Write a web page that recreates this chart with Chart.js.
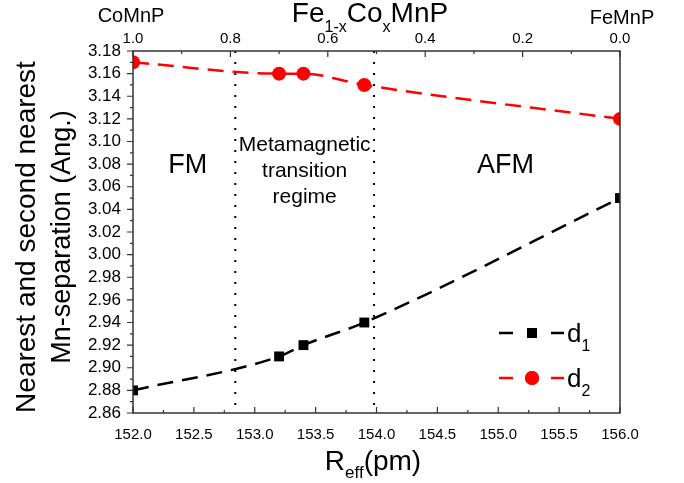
<!DOCTYPE html>
<html>
<head>
<meta charset="utf-8">
<script src="https://cdn.jsdelivr.net/npm/chart.js@4.4.1/dist/chart.umd.min.js"></script>
<style>
  html, body { margin: 0; padding: 0; background: #fff; }
  #wrap { width: 684px; height: 483px; position: relative; }
</style>
</head>
<body>
<div id="wrap"><canvas id="chart"></canvas></div>
<script>
// values
const rEff = [152.0, 153.2, 153.4, 153.9, 156.0];
const d1 = [2.88, 2.91, 2.92, 2.94, 3.05];
const d2 = [3.17, 3.16, 3.16, 3.15, 3.12];
const phaseBounds = [152.84, 153.98];
const xRange = [152, 156];
const yRange = [2.86, 3.18];
const topRange = [0, 1];

const FONT = 'Arial, "Liberation Sans", sans-serif';
const font = (size) => `${size}px ${FONT}`;

// draw a run of text pieces (with subscripts); returns total width
function richText(ctx, parts, x, y, align = 'left') {
  let total = 0;
  for (const p of parts) { ctx.font = font(p.size); total += ctx.measureText(p.t).width; }
  let cx = align === 'center' ? x - total / 2 : x;
  ctx.textAlign = 'left';
  ctx.textBaseline = 'alphabetic';
  for (const p of parts) {
    ctx.font = font(p.size);
    ctx.fillText(p.t, cx, y + (p.dy || 0));
    cx += ctx.measureText(p.t).width;
  }
  return total;
}

const decor = {
  id: 'decor',
  beforeDatasetsDraw(chart) {
    const { ctx, chartArea: a, scales: { x, y } } = chart;
    ctx.save();
    // phase boundaries
    ctx.strokeStyle = '#000';
    ctx.lineWidth = 2;
    ctx.setLineDash([2, 9]);
    for (const b of phaseBounds) {
      const px = x.getPixelForValue(b);
      ctx.beginPath(); ctx.moveTo(px, a.top); ctx.lineTo(px, a.bottom); ctx.stroke();
    }
    ctx.setLineDash([]);
    // region labels
    ctx.fillStyle = '#000';
    ctx.textAlign = 'center';
    ctx.textBaseline = 'middle';
    ctx.font = font(27);
    ctx.fillText('FM', x.getPixelForValue(152.45), y.getPixelForValue(3.079));
    ctx.fillText('AFM', x.getPixelForValue(155.06), y.getPixelForValue(3.079));
    ctx.font = font(21);
    const mx = x.getPixelForValue(153.41);
    ctx.fillText('Metamagnetic', mx, y.getPixelForValue(3.097));
    ctx.fillText('transition', mx, y.getPixelForValue(3.074));
    ctx.fillText('regime', mx, y.getPixelForValue(3.051));
    ctx.restore();
  },
  afterDraw(chart) {
    const { ctx, chartArea: a, scales: { x, x2, y } } = chart;
    ctx.save();
    ctx.strokeStyle = '#333';
    ctx.fillStyle = '#000';
    ctx.lineWidth = 1.5;
    ctx.strokeRect(a.left, a.top, a.right - a.left, a.bottom - a.top);

    ctx.lineWidth = 1.2;
    ctx.beginPath();
    // bottom ticks (inward)
    for (let i = 0; i <= 16; i++) {
      const px = x.getPixelForValue(xRange[0] + i * 0.25);
      const len = i % 2 === 0 ? 6 : 3;
      ctx.moveTo(px, a.bottom); ctx.lineTo(px, a.bottom - len);
    }
    // top ticks (inward)
    for (let i = 0; i <= 10; i++) {
      const px = x2.getPixelForValue(i * 0.1);
      const len = i % 2 === 0 ? 6 : 3;
      ctx.moveTo(px, a.top); ctx.lineTo(px, a.top + len);
    }
    // left ticks (outward)
    for (let i = 0; i <= 32; i++) {
      const py = y.getPixelForValue(yRange[0] + i * 0.01);
      const len = i % 2 === 0 ? 6 : 3;
      ctx.moveTo(a.left, py); ctx.lineTo(a.left - len, py);
    }
    ctx.stroke();

    // y axis title, two lines
    const cy = (a.top + a.bottom) / 2 + 5;
    ctx.font = font(28);
    ctx.textAlign = 'center';
    ctx.textBaseline = 'middle';
    ctx.save(); ctx.translate(27, cy); ctx.rotate(-Math.PI / 2);
    ctx.fillText('Nearest and second nearest', 0, 0); ctx.restore();
    ctx.font = font(27);
    ctx.save(); ctx.translate(63, cy); ctx.rotate(-Math.PI / 2);
    ctx.fillText('Mn-separation (Ang.)', 0, 0); ctx.restore();

    // bottom axis title
    richText(ctx, [{ t: 'R', size: 28 }, { t: 'eff', size: 17, dy: 8 }, { t: '(pm)', size: 28 }], 373, 470, 'center');

    // top axis title and end members
    richText(ctx, [
      { t: 'Fe', size: 28 }, { t: '1-x', size: 16, dy: 10 },
      { t: 'Co', size: 28 }, { t: 'x', size: 16, dy: 10 }, { t: 'MnP', size: 28 },
    ], 370, 22, 'center');
    ctx.font = font(20);
    ctx.textAlign = 'center';
    ctx.textBaseline = 'alphabetic';
    ctx.fillText('CoMnP', 131, 22);
    ctx.fillText('FeMnP', 622, 24);

    // legend
    const rows = [
      { color: '#000', style: 'rect', sub: '1', py: 333 },
      { color: '#f00', style: 'circle', sub: '2', py: 378 },
    ];
    for (const r of rows) {
      ctx.strokeStyle = r.color;
      ctx.fillStyle = r.color;
      ctx.lineWidth = 2.5;
      ctx.beginPath();
      ctx.moveTo(499, r.py); ctx.lineTo(513, r.py);
      ctx.moveTo(551, r.py); ctx.lineTo(564, r.py);
      ctx.stroke();
      Chart.helpers.drawPoint(ctx, { pointStyle: r.style, radius: 7, borderWidth: 0 }, 532, r.py);
      ctx.fill();
      ctx.fillStyle = '#000';
      richText(ctx, [{ t: 'd', size: 26 }, { t: r.sub, size: 16, dy: 9 }], 567, r.py + 9);
    }
    ctx.restore();
  },
};

const pts = (ys) => rEff.map((v, i) => ({ x: v, y: ys[i] }));

new Chart(document.getElementById('chart'), {
  type: 'line',
  data: {
    datasets: [
      {
        label: 'd1', data: pts(d1), borderColor: '#000', backgroundColor: '#000',
        borderWidth: 2.5, borderDash: [16, 9], pointStyle: 'rect', pointRadius: 7, pointBorderWidth: 0,
        cubicInterpolationMode: 'monotone',
      },
      {
        label: 'd2', data: pts(d2), borderColor: '#f00', backgroundColor: '#f00',
        borderWidth: 2.5, borderDash: [16, 9], pointStyle: 'circle', pointRadius: 7, pointBorderWidth: 0,
        cubicInterpolationMode: 'monotone',
      },
    ],
  },
  options: {
    responsive: true,
    maintainAspectRatio: false,
    animation: false,
    layout: { padding: { left: 0, right: 64, top: 0, bottom: 0 } },
    plugins: { legend: { display: false }, tooltip: { enabled: false } },
    scales: {
      x: {
        type: 'linear', position: 'bottom', min: xRange[0], max: xRange[1],
        afterFit: (s) => { s.height = 70; },
        border: { display: false },
        grid: { drawOnChartArea: false, drawTicks: true, tickLength: 8, tickColor: 'transparent' },
        ticks: { stepSize: 0.5, autoSkip: false, padding: 5, color: '#000', font: { family: FONT, size: 15 }, callback: (v) => v.toFixed(1), maxRotation: 0 },
      },
      x2: {
        type: 'linear', position: 'top', min: topRange[0], max: topRange[1], reverse: true,
        afterFit: (s) => { s.height = 51; },
        border: { display: false },
        grid: { drawOnChartArea: false, drawTicks: true, tickLength: 1, tickColor: 'transparent' },
        ticks: { stepSize: 0.2, autoSkip: false, padding: 2, color: '#000', font: { family: FONT, size: 15 }, callback: (v) => v.toFixed(1), maxRotation: 0 },
      },
      y: {
        type: 'linear', position: 'left', min: yRange[0], max: yRange[1],
        afterFit: (s) => { s.width = 133; },
        border: { display: false },
        grid: { drawOnChartArea: false, drawTicks: true, tickLength: 7, tickColor: 'transparent' },
        ticks: { stepSize: 0.02, autoSkip: false, padding: 5, color: '#000', font: { family: FONT, size: 17 }, callback: (v) => v.toFixed(2) },
      },
    },
  },
  plugins: [decor],
});
</script>
</body>
</html>
